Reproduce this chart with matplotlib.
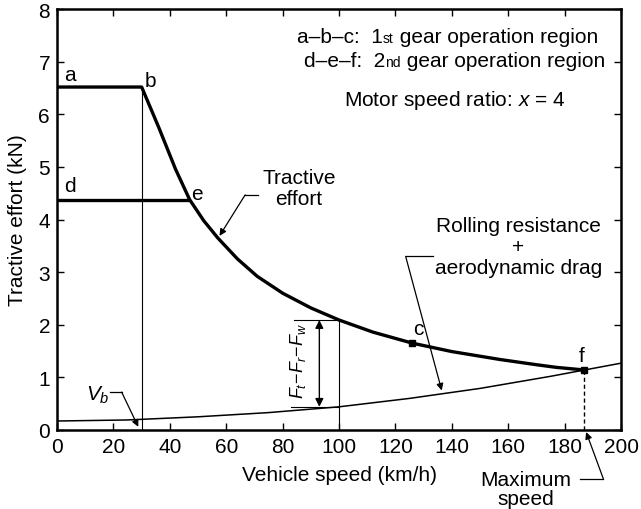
import matplotlib
matplotlib.use("Agg")
import matplotlib.pyplot as plt
from matplotlib.offsetbox import TextArea, HPacker, AnnotationBbox

plt.rcParams['font.family'] = ['Liberation Sans', 'DejaVu Sans']
plt.rcParams['mathtext.fontset'] = 'custom'
plt.rcParams['mathtext.rm'] = 'Liberation Sans'
plt.rcParams['mathtext.it'] = 'Liberation Sans:italic'
plt.rcParams['mathtext.bf'] = 'Liberation Sans:bold'

# ---- data (km/h, kN) ----
first_gear_speed = [0, 30]
first_gear_effort = [6.52, 6.52]
second_gear_speed = [0, 47]
second_gear_effort = [4.38, 4.38]
power_speed = [30, 33, 36, 39, 42, 47, 52, 57, 64, 71, 80, 90, 100,
               112, 126, 140, 157, 170, 177, 187]
power_effort = [6.52, 6.14, 5.76, 5.36, 4.96, 4.38, 3.98, 3.65, 3.25, 2.92,
                2.60, 2.32, 2.09, 1.86, 1.65, 1.49, 1.34, 1.24, 1.19, 1.14]
resist_speed = [0, 25, 50, 75, 100, 125, 150, 175, 187, 200]
resist_force = [0.17, 0.19, 0.25, 0.33, 0.44, 0.60, 0.79, 1.02, 1.14, 1.27]
base_speed = 30
check_speed = 100
check_effort = 2.09
check_resist = 0.44
point_c = (126, 1.65)
max_speed = 187
max_effort = 1.14
xticks = list(range(0, 201, 20))
yticks = list(range(0, 9))

FS = 15
fig = plt.figure(figsize=(6.41, 5.10), dpi=100)
ax = fig.add_axes([0.089, 0.155, 0.880, 0.825])

# tractive effort envelope
ax.plot(first_gear_speed + power_speed, first_gear_effort + power_effort,
        color='black', lw=2.4, solid_joinstyle='round', zorder=3)
ax.plot(second_gear_speed, second_gear_effort, color='black', lw=2.4,
        solid_capstyle='butt', zorder=3)
# resistance
ax.plot(resist_speed, resist_force, color='black', lw=1.1, zorder=2)

# point markers
ax.plot([point_c[0]], [point_c[1]], marker='s', ms=4, color='black', zorder=4)
ax.plot([max_speed], [max_effort], marker='s', ms=4, color='black', zorder=4)

# guide lines
ax.plot([base_speed, base_speed], [0, first_gear_effort[0]], color='black', lw=0.8)
ax.plot([check_speed, check_speed], [0, check_effort], color='black', lw=0.8)
ax.plot([84, check_speed], [check_effort, check_effort], color='black', lw=0.8)
ax.plot([83, check_speed], [check_resist, check_resist], color='black', lw=0.8)
ax.plot([max_speed, max_speed], [0, max_effort], color='black', lw=1.0,
        ls=(0, (3, 2)))

# net-force double arrow
ax.annotate('', xy=(93, check_resist), xytext=(93, check_effort),
            arrowprops=dict(arrowstyle='<|-|>', color='black', lw=1.0,
                            mutation_scale=12, shrinkA=0, shrinkB=0))
ax.text(85.5, 1.33, r'$F_t\!-\!F_r\!-\!F_w$', rotation=90, ha='center',
        va='center', fontsize=13)

# point letters
for lab, x, y in [('a', 4.6, 6.75), ('b', 33, 6.64), ('d', 4.6, 4.64),
                  ('e', 49.5, 4.5), ('c', 128, 1.92), ('f', 186, 1.41)]:
    ax.text(x, y, lab, ha='center', va='center', fontsize=FS)

arrow_kw = dict(arrowstyle='-|>', color='black', lw=0.9, mutation_scale=10,
                shrinkA=0, shrinkB=0)

# Tractive effort callout
ax.plot([71.2, 66.7], [4.47, 4.47], color='black', lw=0.9)
ax.annotate('', xy=(57.6, 3.69), xytext=(66.7, 4.47), arrowprops=arrow_kw)
ax.text(85.8, 4.60, 'Tractive\neffort', ha='center', va='center',
        fontsize=FS, linespacing=1.1)

# Resistance callout
ax.plot([133.4, 123.6], [3.30, 3.30], color='black', lw=0.9)
ax.annotate('', xy=(136.4, 0.75), xytext=(123.6, 3.30), arrowprops=arrow_kw)
ax.text(163.6, 3.49, 'Rolling resistance\n+\naerodynamic drag', ha='center',
        va='center', fontsize=FS, linespacing=1.15)

# base speed callout
ax.plot([18.8, 22.9], [0.72, 0.72], color='black', lw=0.9)
ax.annotate('', xy=(28.8, 0.06), xytext=(22.9, 0.72), arrowprops=arrow_kw)
ax.text(14.5, 0.68, r'$V_b$', ha='center', va='center', fontsize=FS)

# maximum speed callout
ax.plot([185.5, 193.7], [-0.93, -0.93], color='black', lw=0.9, clip_on=False)
ax.annotate('', xy=(187.6, -0.04), xytext=(193.7, -0.93),
            arrowprops=arrow_kw, annotation_clip=False)
ax.text(166.1, -1.12, 'Maximum\nspeed', ha='center', va='center',
        fontsize=FS, linespacing=1.0)


def gear_line(prefix, ordinal, suffix, xy):
    parts = [TextArea(prefix, textprops=dict(fontsize=FS)),
             TextArea(ordinal, textprops=dict(fontsize=10)),
             TextArea(suffix, textprops=dict(fontsize=FS))]
    box = HPacker(children=parts, align='baseline', pad=0, sep=0)
    ab = AnnotationBbox(box, xy, xycoords='data', box_alignment=(1, 0.5),
                        frameon=False, pad=0)
    ax.add_artist(ab)


gear_line('a\u2013b\u2013c:  1', 'st', ' gear operation region', (191.8, 7.48))
gear_line('d\u2013e\u2013f:  2', 'nd', ' gear operation region', (194.3, 7.02))
ax.text(180.1, 6.29, r'Motor speed ratio: $x$ = 4', ha='right', va='center',
        fontsize=FS)

# axes styling
ax.set_xlim(0, 200)
ax.set_ylim(0, 8)
ax.set_xticks(xticks)
ax.set_yticks(yticks)
ax.tick_params(direction='in', top=True, right=True, length=5, width=1.0,
               labelsize=FS, pad=5)
for s in ax.spines.values():
    s.set_linewidth(1.8)
ax.set_xlabel('Vehicle speed (km/h)', fontsize=FS)
ax.xaxis.set_label_coords(0.5, -0.083)
ax.set_ylabel('Tractive effort (kN)', fontsize=FS)
ax.yaxis.set_label_coords(-0.053, 0.5)

fig.savefig('out.png', dpi=100)
